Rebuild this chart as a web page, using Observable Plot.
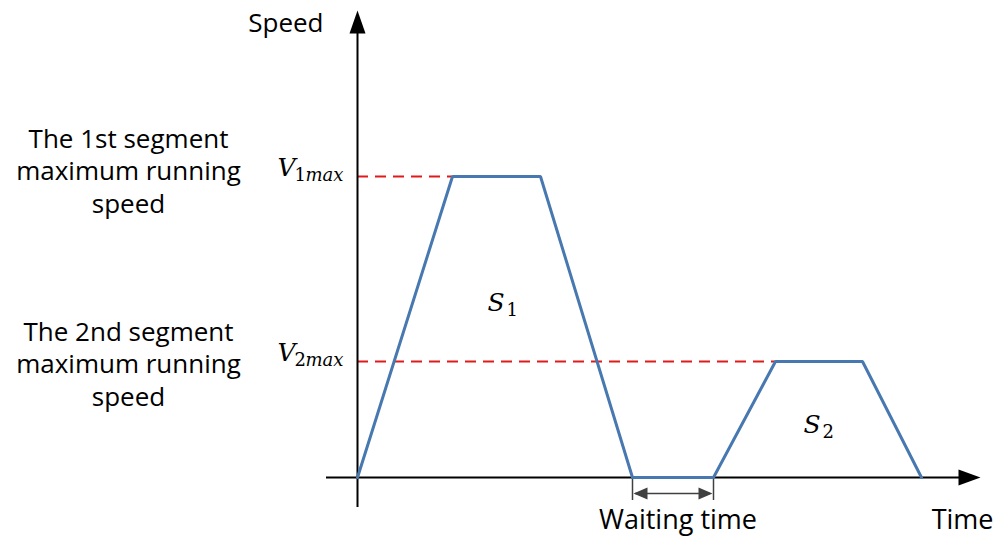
<!DOCTYPE html>
<html>
<head>
<meta charset="utf-8">
<script src="https://cdn.jsdelivr.net/npm/d3@7"></script>
<script src="https://cdn.jsdelivr.net/npm/@observablehq/plot@0.6"></script>
<style>
  html, body { margin: 0; padding: 0; background: #fff; }
  #chart svg { display: block; }
</style>
</head>
<body>
<div id="chart"></div>
<script>
// ---- data ----
const timePoints  = [0, 9.5, 18.3, 27.5, 35.6, 41.8, 50.5, 56.4];
const speedValues = [0, 3.01, 3.01, 0, 0, 1.16, 1.16, 0];
const maxSpeeds   = [3.01, 1.16];           // V1max, V2max
const maxSpeedEnds = [9.5, 41.8];           // time where each max speed is first reached
const maxSubs     = ["1", "2"];
const sideLabels  = [
  ["The 1st segment", "maximum running", "speed"],
  ["The 2nd segment", "maximum running", "speed"]
];
const waitStart = 27.5, waitEnd = 35.6;
const areaLabels = [
  {s: "1", t: 13.0, v: 1.67},
  {s: "2", t: 44.6, v: 0.45}
];

const profile = timePoints.map((t, i) => ({t, v: speedValues[i]}));
const maxRows = maxSpeeds.map((v, i) => ({v, end: maxSpeedEnds[i], sub: maxSubs[i], lines: sideLabels[i]}));

const arrowHead = (len, half) => ({
  draw(ctx) { ctx.moveTo(0, 0); ctx.lineTo(-half, len); ctx.lineTo(half, len); ctx.closePath(); }
});

const sans = "'Open Sans', 'Noto Sans', sans-serif";
const serif = "'DejaVu Serif', 'Liberation Serif', serif";

const sideOpts = {x: 0, y: "v", text: d => d.lines.join("\n"), dx: -229, textAnchor: "middle", lineAnchor: "bottom", lineHeight: 1.25, fontFamily: sans, fontSize: 26, fill: "#000"};

const plot = Plot.plot({
  width: 996,
  height: 538,
  margin: 0,
  x: {domain: [0, 62.3], range: [357, 980], axis: null},
  y: {domain: [0, 4.77], range: [477, 0], axis: null},
  marks: [
    // red dashed max-speed guides
    Plot.ruleY(maxRows, {y: "v", x1: 0, x2: "end", stroke: "#e01a1a", strokeWidth: 1.8, strokeDasharray: "11,7"}),
    // axes
    Plot.ruleX([0], {y1: -0.3, y2: 4.5, stroke: "#000", strokeWidth: 2}),
    Plot.ruleY([0], {x1: -3.1, x2: 60.5, stroke: "#000", strokeWidth: 2}),
    Plot.dot([{t: 0, v: 4.67}], {x: "t", y: "v", symbol: arrowHead(23, 8), fill: "#000", stroke: null, rotate: 0}),
    Plot.dot([{t: 62.3, v: 0}], {x: "t", y: "v", symbol: arrowHead(22, 8), fill: "#000", stroke: null, rotate: 90}),
    // waiting-time bracket
    Plot.ruleX([waitStart, waitEnd], {y1: 0, y2: -0.23, stroke: "#404040", strokeWidth: 1.5}),
    Plot.ruleY([-0.16], {x1: waitStart + 0.3, x2: waitEnd - 0.3, stroke: "#404040", strokeWidth: 1.5}),
    Plot.dot([{t: waitStart, v: -0.16}], {x: "t", y: "v", symbol: arrowHead(14, 6), fill: "#404040", stroke: null, rotate: -90, dx: 1}),
    Plot.dot([{t: waitEnd, v: -0.16}], {x: "t", y: "v", symbol: arrowHead(14, 6), fill: "#404040", stroke: null, rotate: 90, dx: -1}),
    // speed profile
    Plot.line(profile, {x: "t", y: "v", stroke: "#4878b0", strokeWidth: 3, strokeLinejoin: "miter"}),
    // V labels
    Plot.text(maxRows, {x: 0, y: "v", text: () => "V", dx: -80, dy: -1, textAnchor: "start", lineAnchor: "bottom", fontFamily: serif, fontStyle: "italic", fontSize: 25, fill: "#000"}),
    Plot.text(maxRows, {x: 0, y: "v", text: "sub", dx: -63, dy: 4, textAnchor: "start", lineAnchor: "bottom", fontFamily: serif, fontSize: 18, fill: "#000"}),
    Plot.text(maxRows, {x: 0, y: "v", text: () => "max", dx: -52, dy: 4, textAnchor: "start", lineAnchor: "bottom", fontFamily: serif, fontStyle: "italic", fontSize: 18, fill: "#000"}),
    // side labels
    Plot.text(maxRows, {...sideOpts, dy: 36, filter: (d, i) => i === 0}),
    Plot.text(maxRows, {...sideOpts, dy: 44, filter: (d, i) => i === 1}),
    // area labels
    Plot.text(areaLabels, {x: "t", y: "v", text: () => "S", dx: 0, dy: 0, textAnchor: "start", lineAnchor: "bottom", fontFamily: serif, fontStyle: "italic", fontSize: 25, fill: "#000"}),
    Plot.text(areaLabels, {x: "t", y: "v", text: "s", dx: 19, dy: 5, textAnchor: "start", lineAnchor: "bottom", fontFamily: serif, fontSize: 18, fill: "#000"}),
    // axis titles
    Plot.text(["Speed"], {x: 0, y: 4.77, text: d => d, dx: -34, dy: 31, textAnchor: "end", lineAnchor: "bottom", fontFamily: sans, fontSize: 26, fill: "#000"}),
    Plot.text(["Time"], {x: 62.3, y: 0, text: d => d, dx: 13, dy: 51, textAnchor: "end", lineAnchor: "bottom", fontFamily: sans, fontSize: 27, fill: "#000"}),
    Plot.text(["Waiting time"], {x: (waitStart + waitEnd) / 2, y: 0, text: d => d, dx: 5, dy: 51, textAnchor: "middle", lineAnchor: "bottom", fontFamily: sans, fontSize: 27, fill: "#000"})
  ]
});
document.getElementById("chart").appendChild(plot);
</script>
</body>
</html>
